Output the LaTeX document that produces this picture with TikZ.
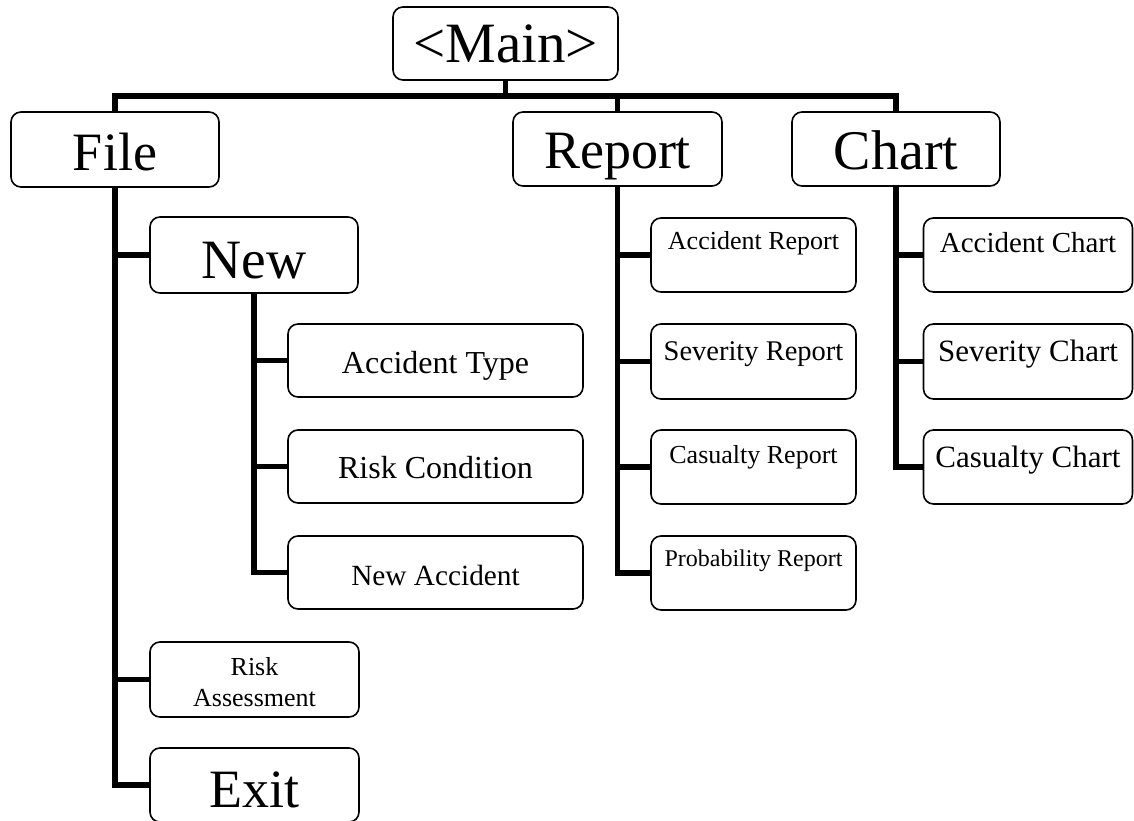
\documentclass[tikz,border=0pt]{standalone}
\usepackage{fontspec}
\setmainfont{Liberation Serif}
\tikzset{
  box/.style={draw=black, fill=white, line width=1.6pt, rounded corners=10pt,
    inner sep=0pt, minimum width=208pt, align=center},
  wire/.style={draw=black, line width=5.5pt, line join=miter},
  big/.style={font=\fontsize{54}{60}\selectfont},
}
\begin{document}
\begin{tikzpicture}[x=1pt,y=-1pt]
\useasboundingbox[fill=white] (0,0) rectangle (1134,821);
% top
\node[box, font=\fontsize{57}{62}\selectfont, minimum width=225pt, text height=56pt, text depth=17pt] (main) at (505.5,43.5) {<Main>};
\node[box, big, text height=59pt, text depth=16pt] (file) at (115,149.5) {File};
\node[box, big, minimum width=209pt, text height=56pt, text depth=18pt] (report) at (617.5,149) {Report};
\node[box, font=\fontsize{56}{62}\selectfont, text height=58pt, text depth=16pt] (chart) at (896,149) {Chart};
% file branch
\node[box, font=\fontsize{55.5}{62}\selectfont, text height=61pt, text depth=15pt] (new) at (254,255) {New};
\node[box, font=\fontsize{32}{38}\selectfont, minimum width=295pt, text height=49pt, text depth=24pt] (acctype) at (435.5,360.5) {Accident Type};
\node[box, font=\fontsize{32}{38}\selectfont, minimum width=295pt, text height=48pt, text depth=25pt] (riskcond) at (435.5,466.5) {Risk Condition};
\node[box, font=\fontsize{29.3}{35}\selectfont, minimum width=295pt, text height=49pt, text depth=24pt] (newacc) at (435.5,572.5) {New Accident};
\node[box, font=\fontsize{26}{31}\selectfont, minimum width=209pt, text height=64pt, text depth=11pt] (riskass) at (254.5,679.5) {Risk\\Assessment};
\node[box, big, minimum width=209pt, text height=59pt, text depth=15pt] (exit) at (254.5,785) {Exit};
% report branch
\node[box, font=\fontsize{26}{31}\selectfont, minimum width=205pt, text height=31pt, text depth=43pt] (accrep) at (753.5,255) {Accident Report};
\node[box, font=\fontsize{28.5}{34}\selectfont, minimum width=205pt, text height=36pt, text depth=39pt] (sevrep) at (753.5,361.5) {Severity Report};
\node[box, font=\fontsize{26}{31}\selectfont, minimum width=205pt, text height=33pt, text depth=41pt] (casrep) at (753.5,467) {Casualty Report};
\node[box, font=\fontsize{24}{29}\selectfont, minimum width=205pt, text height=30pt, text depth=44pt] (probrep) at (753.5,573) {Probability Report};
% chart branch
\node[box, font=\fontsize{29}{35}\selectfont, minimum width=209pt, text height=34pt, text depth=40pt] (accchart) at (1028,255) {Accident Chart};
\node[box, font=\fontsize{31}{37}\selectfont, minimum width=209pt, text height=37pt, text depth=38pt] (sevchart) at (1028,361.5) {Severity Chart};
\node[box, font=\fontsize{31}{37}\selectfont, minimum width=209pt, text height=37pt, text depth=37pt] (caschart) at (1028,467) {Casualty Chart};
% connectors
\coordinate (bus) at (505.5,96);
\draw[wire] (main.south) -- (bus);
\draw[wire] (file.north) |- (bus) -| (chart.north);
\draw[wire] (report.north) -- (report.north |- bus);
\draw[wire] (file.south) |- (exit.west);
\draw[wire] (file.south |- new.west) -- (new.west);
\draw[wire] (file.south |- riskass.west) -- (riskass.west);
\draw[wire] (new.south) |- (newacc.west);
\draw[wire] (new.south |- acctype.west) -- (acctype.west);
\draw[wire] (new.south |- riskcond.west) -- (riskcond.west);
\draw[wire] (report.south) |- (probrep.west);
\draw[wire] (report.south |- accrep.west) -- (accrep.west);
\draw[wire] (report.south |- sevrep.west) -- (sevrep.west);
\draw[wire] (report.south |- casrep.west) -- (casrep.west);
\draw[wire] (chart.south) |- (caschart.west);
\draw[wire] (chart.south |- accchart.west) -- (accchart.west);
\draw[wire] (chart.south |- sevchart.west) -- (sevchart.west);
\end{tikzpicture}
\end{document}
